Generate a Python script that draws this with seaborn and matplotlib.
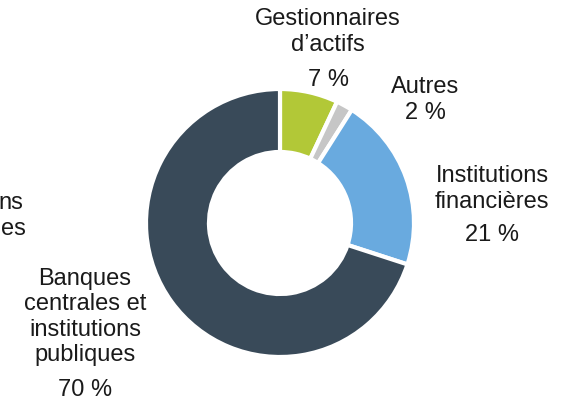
import matplotlib
matplotlib.use("Agg")
import matplotlib.pyplot as plt
import seaborn as sns

# Données
categories = ["Gestionnaires\nd’actifs", "Autres", "Institutions\nfinancières",
              "Banques\ncentrales et\ninstitutions\npubliques"]
parts = [7, 2, 21, 70]
couleurs = ["#B2C837", "#C6C6C6", "#69AADF", "#394A59"]

sns.set_theme(style="white")
plt.rcParams['font.family'] = ['Liberation Sans', 'DejaVu Sans']

W, H = 572, 401
fig = plt.figure(figsize=(W / 100, H / 100), dpi=100)

# Axe du donut : centre (280, 223) px, rayon 134 px
cx, cy, r = 280, 223, 134
lim = 1.05
half = r * lim
ax = fig.add_axes([(cx - half) / W, (H - cy - half) / H, 2 * half / W, 2 * half / H])

ax.pie(parts, colors=couleurs, startangle=90, counterclock=False, radius=1,
       wedgeprops=dict(width=0.47, edgecolor="white", linewidth=3))
ax.set_xlim(-lim, lim)
ax.set_ylim(-lim, lim)
ax.set_aspect("equal")
ax.axis("off")

fs = 17

def px_text(x, y, s, ha="center", ls=1.2):
    fig.text(x / W, 1 - y / H, s, ha=ha, va="center", fontsize=fs,
             color="#1a1a1a", linespacing=ls)

# Étiquettes
px_text(328, 32, categories[0])
px_text(328, 80, f"{parts[0]} %")
px_text(425, 100, f"{categories[1]}\n{parts[1]} %")
px_text(492, 189, categories[2])
px_text(492, 235, f"{parts[2]} %")
px_text(85, 317, categories[3])
px_text(85, 390, f"{parts[3]} %")

# Fragment d'étiquette visible au bord gauche
px_text(23, 203, "ns", ha="right")
px_text(26, 229, "es", ha="right")

fig.savefig("out.png", dpi=100)
